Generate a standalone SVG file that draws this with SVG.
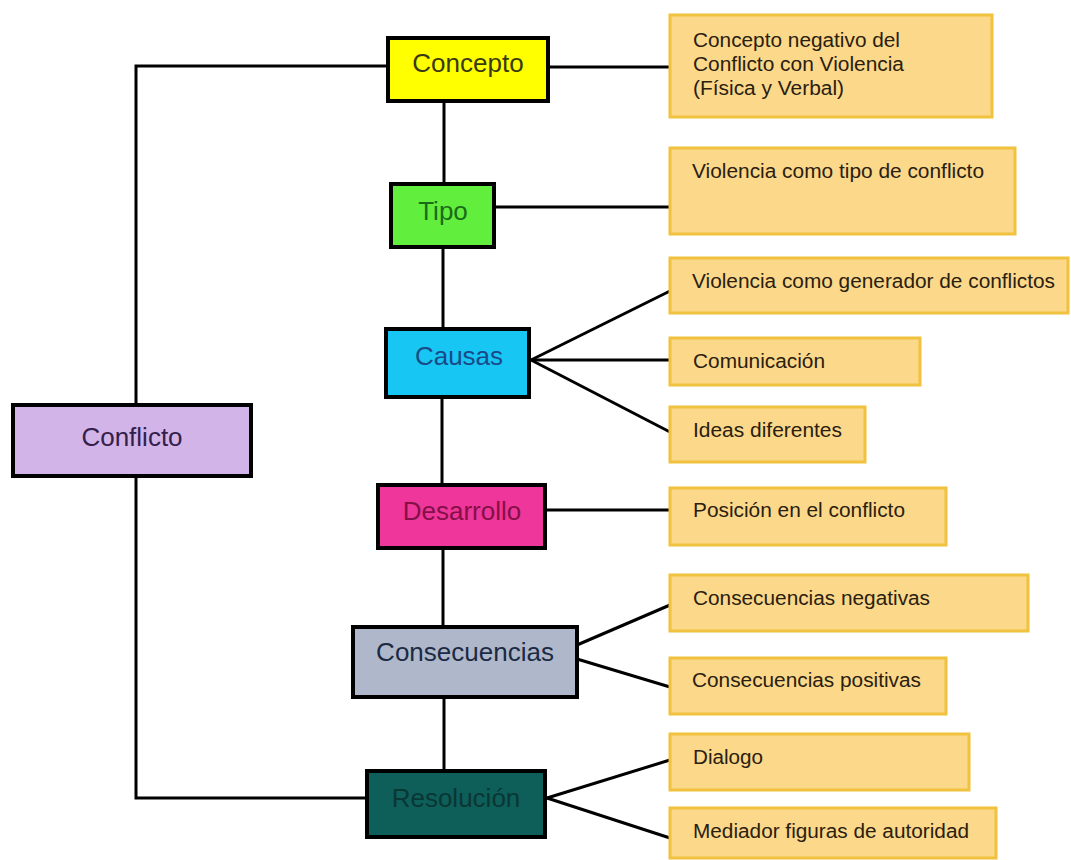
<svg xmlns="http://www.w3.org/2000/svg" width="1071" height="860" viewBox="0 0 1071 860">
<style>
.main{stroke:#000;stroke-width:4}
.main-t{font-family:"Liberation Sans",Arial,sans-serif;font-size:26px;text-anchor:middle}
.leaf{fill:#fcd88a;stroke:#f0c23e;stroke-width:3}
.leaf-t{font-family:"Liberation Sans",Arial,sans-serif;font-size:20px;fill:#2a2010}
.conn line,.conn polyline{stroke:#000;stroke-width:3;fill:none}
</style>
<rect width="1071" height="860" fill="#fff"/>
<g class="conn">
<polyline points="388,66 136,66 136,405"/>
<polyline points="136,476 136,798 367,798"/>
<line x1="444" y1="101" x2="444" y2="184"/>
<line x1="443" y1="247" x2="443" y2="329"/>
<line x1="442" y1="397" x2="442" y2="485"/>
<line x1="443" y1="548" x2="443" y2="627"/>
<line x1="444" y1="697" x2="444" y2="771"/>
<line x1="548" y1="67" x2="670" y2="67"/>
<line x1="494" y1="207" x2="670" y2="207"/>
<line x1="531" y1="360" x2="670" y2="291"/>
<line x1="531" y1="360" x2="670" y2="360"/>
<line x1="531" y1="360" x2="670" y2="432"/>
<line x1="545" y1="510" x2="670" y2="510"/>
<line x1="577" y1="645" x2="670" y2="605"/>
<line x1="577" y1="659" x2="670" y2="687"/>
<line x1="547" y1="798" x2="670" y2="760"/>
<line x1="547" y1="798" x2="670" y2="838"/>
</g>
<g id="conflicto"><rect class="main" x="13" y="405" width="238" height="71" fill="#d3b4e9"/><text class="main-t" x="132" y="446" font-size="30" fill="#33204a">Conflicto</text></g>
<g id="concepto"><rect class="main" x="388" y="38" width="160" height="63" fill="#ffff00"/><text class="main-t" x="468" y="72" fill="#3a3a12">Concepto</text></g>
<g id="tipo"><rect class="main" x="391" y="184" width="103" height="63" fill="#62ee3c"/><text class="main-t" x="443" y="220" fill="#1a6a1a">Tipo</text></g>
<g id="causas"><rect class="main" x="386" y="329" width="143" height="68" fill="#18c6f4"/><text class="main-t" x="459" y="365" fill="#1a4a88">Causas</text></g>
<g id="desarrollo"><rect class="main" x="378" y="485" width="167" height="63" fill="#ef369a"/><text class="main-t" x="462" y="520" fill="#841048">Desarrollo</text></g>
<g id="consecuencias"><rect class="main" x="353" y="627" width="224" height="70" fill="#aeb8ca"/><text class="main-t" x="465" y="661" fill="#1c2a44">Consecuencias</text></g>
<g id="resolucion"><rect class="main" x="367" y="771" width="178" height="66" fill="#0e5f5a"/><text class="main-t" x="456" y="807" fill="#0a3634">Resolución</text></g>
<g id="leaf-concepto"><rect class="leaf" x="670" y="15" width="322" height="102"/>
<text class="leaf-t" x="693" y="47" textLength="207" lengthAdjust="spacingAndGlyphs">Concepto negativo del</text>
<text class="leaf-t" x="693" y="71" textLength="211" lengthAdjust="spacingAndGlyphs">Conflicto con Violencia</text>
<text class="leaf-t" x="693" y="95" textLength="151" lengthAdjust="spacingAndGlyphs">(Física y Verbal)</text></g>
<g id="leaf-tipo"><rect class="leaf" x="670" y="148" width="345" height="86"/><text class="leaf-t" x="692" y="178" textLength="292" lengthAdjust="spacingAndGlyphs">Violencia como tipo de conflicto</text></g>
<g id="leaf-generador"><rect class="leaf" x="670" y="258" width="398" height="55"/><text class="leaf-t" x="692" y="288" textLength="363" lengthAdjust="spacingAndGlyphs">Violencia como generador de conflictos</text></g>
<g id="leaf-comunicacion"><rect class="leaf" x="670" y="338" width="250" height="47"/><text class="leaf-t" x="693" y="368" textLength="132" lengthAdjust="spacingAndGlyphs">Comunicación</text></g>
<g id="leaf-ideas"><rect class="leaf" x="670" y="407" width="195" height="55"/><text class="leaf-t" x="693" y="437" textLength="149" lengthAdjust="spacingAndGlyphs">Ideas diferentes</text></g>
<g id="leaf-posicion"><rect class="leaf" x="670" y="488" width="276" height="57"/><text class="leaf-t" x="693" y="517" textLength="212" lengthAdjust="spacingAndGlyphs">Posición en el conflicto</text></g>
<g id="leaf-negativas"><rect class="leaf" x="670" y="575" width="358" height="56"/><text class="leaf-t" x="693" y="605" textLength="237" lengthAdjust="spacingAndGlyphs">Consecuencias negativas</text></g>
<g id="leaf-positivas"><rect class="leaf" x="670" y="658" width="276" height="56"/><text class="leaf-t" x="692" y="687" textLength="229" lengthAdjust="spacingAndGlyphs">Consecuencias positivas</text></g>
<g id="leaf-dialogo"><rect class="leaf" x="670" y="734" width="299" height="56"/><text class="leaf-t" x="693" y="764" textLength="70" lengthAdjust="spacingAndGlyphs">Dialogo</text></g>
<g id="leaf-mediador"><rect class="leaf" x="670" y="808" width="326" height="50"/><text class="leaf-t" x="693" y="838" textLength="276" lengthAdjust="spacingAndGlyphs">Mediador figuras de autoridad</text></g>
</svg>
